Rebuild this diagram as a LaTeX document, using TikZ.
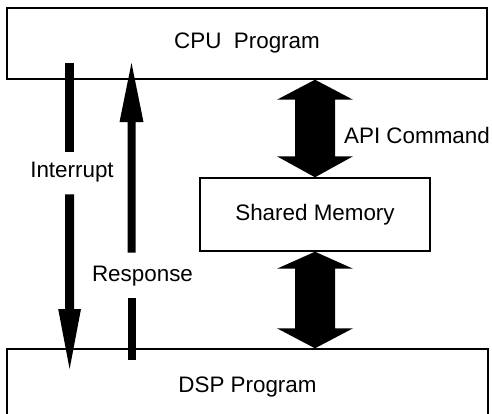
\documentclass[tikz,border=0pt]{standalone}
\usepackage{fontspec}
\setmainfont{Liberation Sans}
\usetikzlibrary{calc}
\begin{document}
\begin{tikzpicture}[x=0.5pt,y=-0.5pt,
  box/.style={draw, line width=0.7pt, inner sep=0pt, font=\fontsize{11.2}{13}\selectfont},
  lbl/.style={inner sep=0pt, font=\fontsize{11.2}{13}\selectfont},
  fat/.style={fill=black}]
\useasboundingbox (0,0) rectangle (492,413);
\clip (0,0) rectangle (492,413);
% boxes
\node[box, minimum width=240pt, minimum height=35.5pt] (cpu) at (247,43.5) {CPU\ \ Program};
\node[box, minimum width=115pt, minimum height=36.5pt] (mem) at (315,214.5) {Shared Memory};
\node[box, minimum width=240.5pt, minimum height=38pt] (dsp) at (247.5,387) {DSP Program};
% labels
\node[lbl] (api) at (417,135) {API Command};
\node[lbl] (int) at (72,172) {Interrupt};
\node[lbl] (rsp) at (142.5,276) {Response};
% fat double arrows
\coordinate (a1t) at (cpu.south -| mem.north);
\coordinate (a1b) at (mem.north);
\coordinate (a2t) at (mem.south);
\coordinate (a2b) at (dsp.north -| mem.south);
\fill[fat] (a1t) -- ($(a1t)+(38,20)$) -- ($(a1t)+(20,20)$) -- ($(a1b)+(20,-21)$) -- ($(a1b)+(38,-21)$) -- (a1b)
  -- ($(a1b)+(-38,-21)$) -- ($(a1b)+(-20,-21)$) -- ($(a1t)+(-20,20)$) -- ($(a1t)+(-38,20)$) -- cycle;
\fill[fat] (a2t) -- ($(a2t)+(38,17)$) -- ($(a2t)+(20,17)$) -- ($(a2b)+(20,-20)$) -- ($(a2b)+(38,-20)$) -- (a2b)
  -- ($(a2b)+(-38,-20)$) -- ($(a2b)+(-20,-20)$) -- ($(a2t)+(-20,17)$) -- ($(a2t)+(-38,17)$) -- cycle;
% interrupt arrow (down)
\coordinate (it) at (69.6,63);
\coordinate (ih) at (69.6,369);
\fill[fat] ($(it)+(-4.5,0)$) rectangle ($(int.north -| it)+(4.5,-10)$);
\fill[fat] ($(int.south -| it)+(-4.5,12)$) -- ($(int.south -| it)+(4.5,12)$) -- ($(ih)+(4.5,-60)$) -- ($(ih)+(11.4,-60)$)
  -- (ih) -- ($(ih)+(-11.4,-60)$) -- ($(ih)+(-4.5,-60)$) -- cycle;
% response arrow (up)
\coordinate (rb) at (131.5,360);
\coordinate (rh) at (131.5,63);
\fill[fat] ($(rb)+(-4,0)$) rectangle ($(rsp.south -| rb)+(4,12)$);
\fill[fat] ($(rsp.north -| rb)+(-4,-13)$) -- ($(rsp.north -| rb)+(4,-13)$) -- ($(rh)+(4,59)$) -- ($(rh)+(12,59)$)
  -- (rh) -- ($(rh)+(-12,59)$) -- ($(rh)+(-4,59)$) -- cycle;
\end{tikzpicture}
\end{document}
